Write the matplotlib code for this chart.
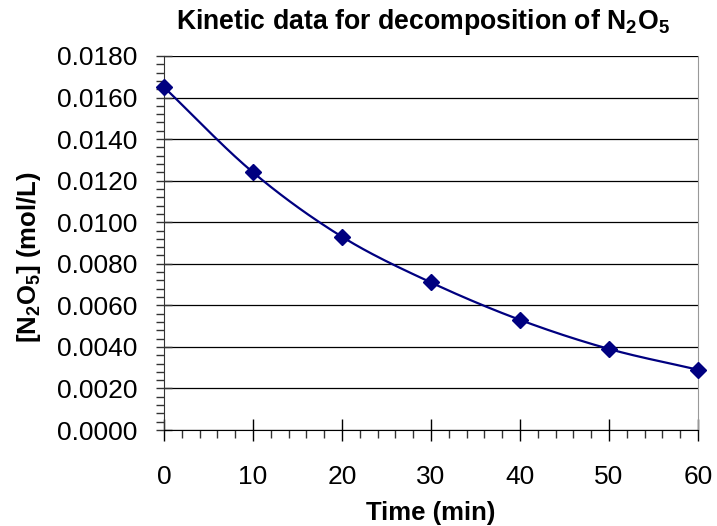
import numpy as np
import matplotlib
matplotlib.use("Agg")
import matplotlib.pyplot as plt
from matplotlib.ticker import MultipleLocator, FormatStrFormatter

plt.rcParams['font.family'] = ['Liberation Sans', 'DejaVu Sans']
plt.rcParams['mathtext.fontset'] = 'custom'
plt.rcParams['mathtext.rm'] = 'Liberation Sans'
plt.rcParams['mathtext.bf'] = 'Liberation Sans:bold'

time_min = [0, 10, 20, 30, 40, 50, 60]
conc = [0.0165, 0.0124, 0.0093, 0.0071, 0.0053, 0.0039, 0.0029]

def catmull_rom(x, y, n=30):
    x = np.asarray(x, float); y = np.asarray(y, float)
    px = np.concatenate([[2*x[0]-x[1]], x, [2*x[-1]-x[-2]]])
    py = np.concatenate([[2*y[0]-y[1]], y, [2*y[-1]-y[-2]]])
    xs, ys = [], []
    t = np.linspace(0, 1, n)
    for i in range(1, len(px)-2):
        for arr, out in ((px, xs), (py, ys)):
            p0, p1, p2, p3 = arr[i-1], arr[i], arr[i+1], arr[i+2]
            out.append(0.5*((2*p1) + (-p0+p2)*t + (2*p0-5*p1+4*p2-p3)*t**2 + (-p0+3*p1-3*p2+p3)*t**3))
    return np.concatenate(xs), np.concatenate(ys)

W, H = 717, 526
fig = plt.figure(figsize=(W/100, H/100), dpi=100)
ax = fig.add_axes([164/W, 1-430/H, (698-164)/W, (430-56)/H])

sx, sy = catmull_rom(time_min, conc)
ax.plot(sx, sy, color='#000080', lw=1.6, zorder=3, clip_on=False)
ax.plot(time_min, conc, linestyle='none', marker='D', ms=8.5, color='#000080', zorder=4, clip_on=False)

ax.set_xlim(0, 60)
ax.set_ylim(0, 0.018)
ax.xaxis.set_major_locator(MultipleLocator(10))
ax.xaxis.set_minor_locator(MultipleLocator(2))
ax.yaxis.set_major_locator(MultipleLocator(0.002))
ax.yaxis.set_minor_locator(MultipleLocator(0.0004))
ax.yaxis.set_major_formatter(FormatStrFormatter('%.4f'))

ax.grid(axis='y', which='major', color='black', lw=0.9)
ax.set_axisbelow(True)
ax.spines['top'].set_visible(False)
ax.spines['right'].set_color('#999999')
ax.spines['left'].set_color('#333333')
ax.spines['bottom'].set_color('black')

ax.tick_params(axis='y', which='major', direction='inout', length=12, width=1, labelsize=19, pad=13, colors='#333333', labelcolor='black')
ax.tick_params(axis='y', which='minor', direction='out', length=6, width=1, colors='#333333')
ax.tick_params(axis='x', which='major', direction='inout', length=16, width=1, labelsize=19, pad=17)
ax.tick_params(axis='x', which='minor', direction='out', length=6, width=1, colors='#333333')

fig.text(423/W, 1-29/H, r'Kinetic data for decomposition of N$_{\mathbf{2}}$O$_{\mathbf{5}}$',
         fontsize=19.2, fontweight='bold', ha='center', va='baseline')
ax.set_xlabel('Time (min)', fontsize=18.5, fontweight='bold', labelpad=8.5)
ax.set_ylabel(r'[N$_{\mathbf{2}}$O$_{\mathbf{5}}$] (mol/L)', fontsize=18.5, fontweight='bold', labelpad=10)
ax.yaxis.label.set_y((430-257)/374)

fig.savefig('out.png', dpi=100)
